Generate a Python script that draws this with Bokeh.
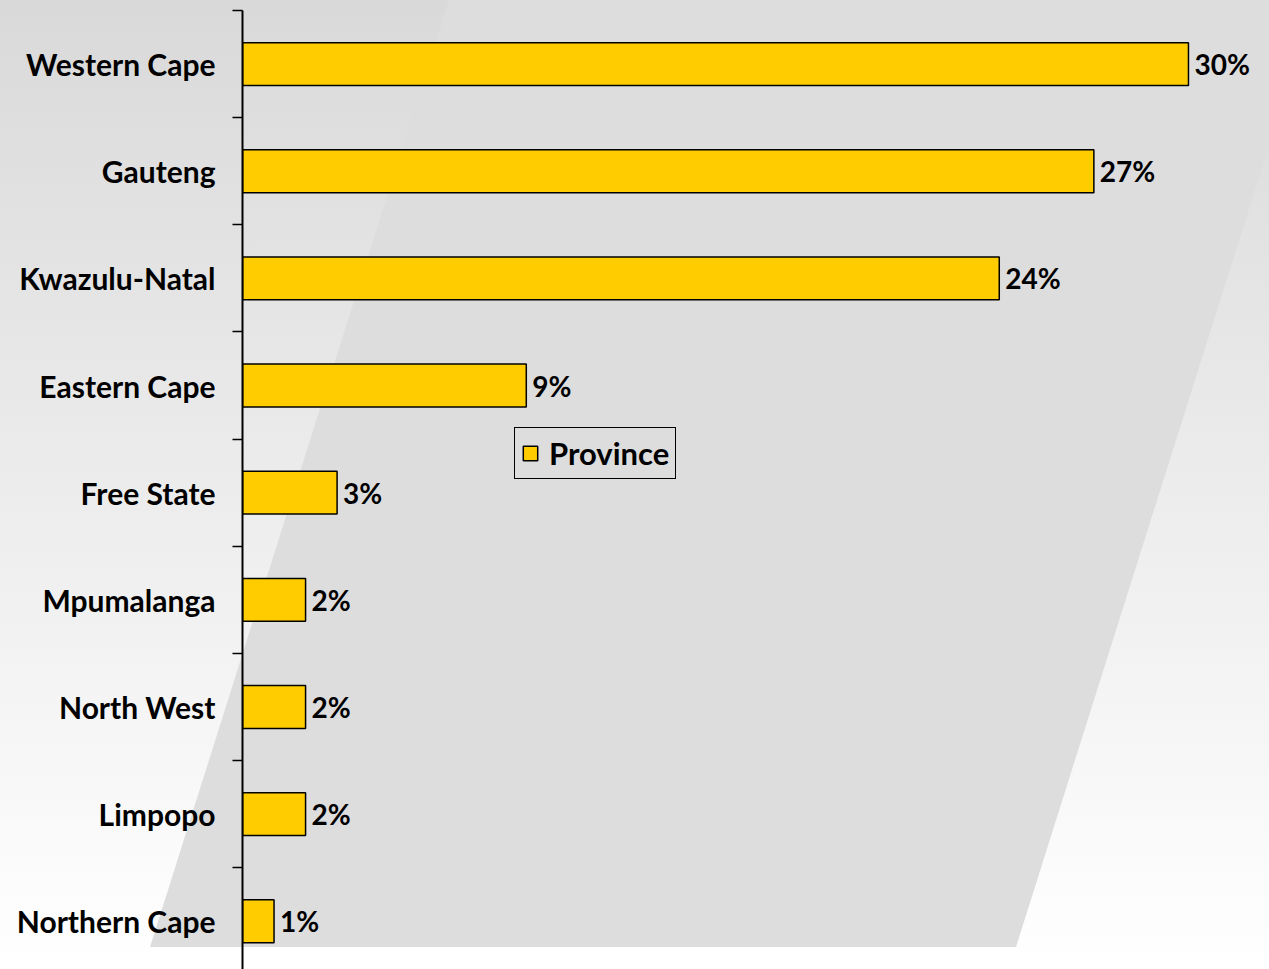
from bokeh.plotting import figure
from bokeh.models import Range1d, FixedTicker
from bokeh.core.properties import value
from bokeh.embed import file_html
from bokeh.resources import INLINE
from urllib.parse import quote

# ---- data ----
provinces = ["Western Cape", "Gauteng", "Kwazulu-Natal", "Eastern Cape", "Free State",
             "Mpumalanga", "North West", "Limpopo", "Northern Cape"]
shares = [30, 27, 24, 9, 3, 2, 2, 2, 1]
share_labels = ["30%", "27%", "24%", "9%", "3%", "2%", "2%", "2%", "1%"]
series_name = "Province"

n = len(provinces)
ypos = [n - 1 - i for i in range(n)]          # top category first
boundaries = [k + 0.5 for k in range(-1, n)]

FONT = "Lato"
W, H = 1269, 969

p = figure(width=W, height=H, output_backend="svg", toolbar_location=None,
           x_range=Range1d(0, 32.57), y_range=Range1d(-0.45, n - 0.5),
           x_axis_location=None, min_border_left=242, min_border_right=0,
           min_border_top=10, min_border_bottom=0)
p.border_fill_color = None
p.background_fill_color = None
p.outline_line_color = None
p.grid.visible = False

# background: vertical grey gradient + slanted panel (decoration)
svg_bg = ("<svg xmlns='http://www.w3.org/2000/svg' width='1269' height='969'>"
          "<defs><linearGradient id='g' x1='0' y1='0' x2='0' y2='1'>"
          "<stop offset='0' stop-color='#d9d9d9'/><stop offset='1' stop-color='#ffffff'/>"
          "</linearGradient></defs>"
          "<rect width='1269' height='969' fill='url(#g)'/>"
          "<polygon points='150,947 1016,947 1315,0 449,0' fill='#dddddd'/></svg>")
p.styles = {"background-image": "url(\"data:image/svg+xml;utf8," + quote(svg_bg) + "\")",
            "background-repeat": "no-repeat"}

p.hbar(y=ypos, right=shares, left=0, height=0.40, fill_color="#FFCC00",
       line_color="black", line_width=1.5, legend_label=series_name)

p.text(x=shares, y=ypos, text=share_labels, x_offset=6, text_align="left",
       text_baseline="middle", text_font=value(FONT), text_font_style="bold",
       text_font_size="28px", text_color="black")

ax = p.yaxis[0]
ax.ticker = FixedTicker(ticks=ypos, minor_ticks=boundaries)
ax.major_label_overrides = {y: name for y, name in zip(ypos, provinces)}
ax.major_tick_line_color = None
ax.major_tick_out = 0
ax.major_tick_in = 0
ax.minor_tick_out = 10
ax.minor_tick_in = 0
ax.minor_tick_line_color = "black"
ax.minor_tick_line_width = 1.5
ax.axis_line_color = "black"
ax.axis_line_width = 2
ax.major_label_standoff = 17
ax.major_label_text_font = FONT
ax.major_label_text_font_style = "bold"
ax.major_label_text_font_size = "30px"
ax.major_label_text_color = "black"

lg = p.legend[0]
lg.location = (272, 490)
lg.background_fill_alpha = 0
lg.border_line_color = "black"
lg.border_line_alpha = 1
lg.border_line_width = 1.5
lg.padding = 6
lg.margin = 0
lg.glyph_width = 18
lg.glyph_height = 18
lg.label_standoff = 10
lg.label_text_font = FONT
lg.label_text_font_style = "bold"
lg.label_text_font_size = "31px"
lg.label_text_color = "black"

open("out.html", "w").write(file_html(p, INLINE))
